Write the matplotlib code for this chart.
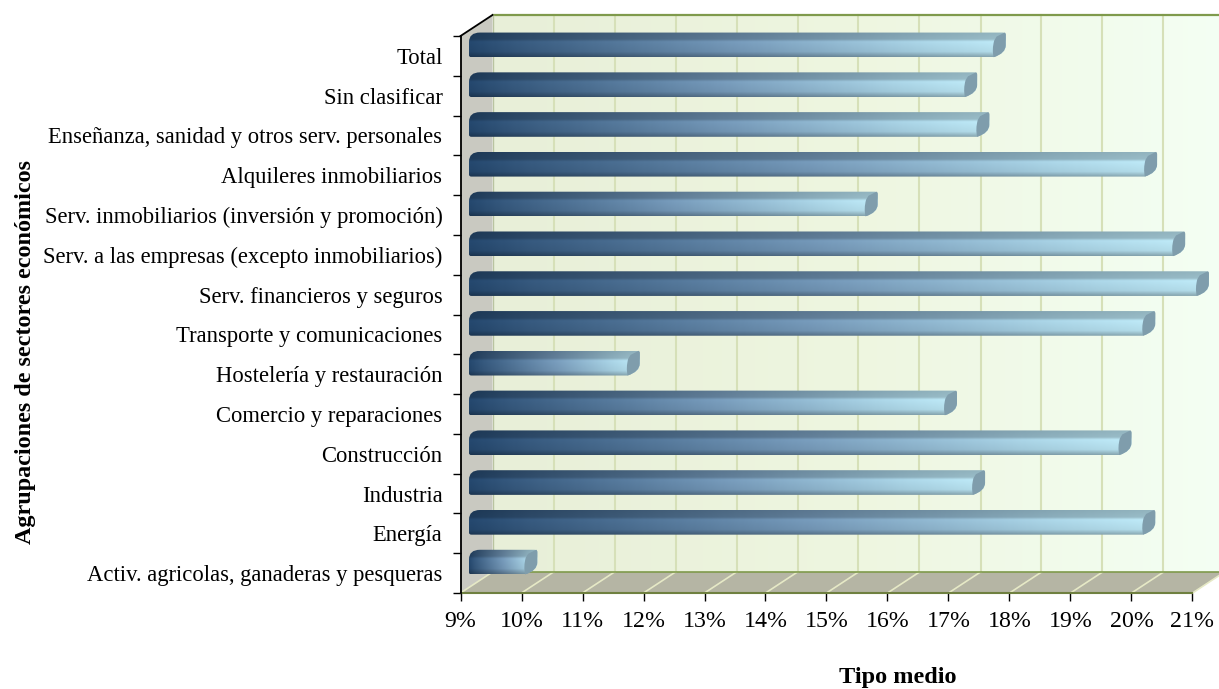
import numpy as np
import matplotlib
matplotlib.use("Agg")
import matplotlib.pyplot as plt
from matplotlib.colors import LinearSegmentedColormap
from matplotlib.patches import PathPatch, Polygon
from matplotlib.path import Path
from matplotlib.transforms import Affine2D

# Data, bottom to top
sectors = [
    "Activ. agricolas, ganaderas y pesqueras",
    "Energía",
    "Industria",
    "Construcción",
    "Comercio y reparaciones",
    "Hostelería y restauración",
    "Transporte y comunicaciones",
    "Serv. financieros y seguros",
    "Serv. a las empresas (excepto inmobiliarios)",
    "Serv. inmobiliarios (inversión y promoción)",
    "Alquileres inmobiliarios",
    "Enseñanza, sanidad y otros serv. personales",
    "Sin clasificar",
    "Total",
]
tipo_medio = [9.92, 20.05, 17.26, 19.66, 16.8, 11.6, 20.05, 20.93, 20.54, 15.5, 20.08, 17.33, 17.13, 17.6]
x_ticks = np.arange(9, 22)

plt.rcParams["font.family"] = ["Liberation Serif", "DejaVu Serif"]

W, H = 1219, 689
fig = plt.figure(figsize=(W / 100, H / 100), dpi=100)
ax = fig.add_axes([460.5 / W, (H - 593) / H, 732 / W, 557 / H])
n = len(sectors)
ax.set_xlim(9, 21)
ax.set_ylim(0, n)

# pixel offsets of the fake depth
back = ax.transData + Affine2D().translate(32, 21)
mid = ax.transData + Affine2D().translate(8.5, 11)
to_data = ax.transData.inverted()
ox, oy = to_data.transform([32, 21]) - to_data.transform([0, 0])

# back wall
wall = LinearSegmentedColormap.from_list("wall", ["#e8efd8", "#eef6e0", "#f4fff4"])
ax.imshow(np.linspace(0, 1, 256).reshape(1, -1), cmap=wall, extent=[9, 21, 0, n],
          aspect="auto", transform=back, clip_on=False, zorder=1)

# left wall and floor
ax.add_patch(Polygon([[9, 0], [9 + ox, oy], [9 + ox, n + oy], [9, n]], closed=True,
                     fc="#c9c9c1", ec="none", clip_on=False, zorder=1.2))
ax.add_patch(Polygon([[9, 0], [21, 0], [21 + ox, oy], [9 + ox, oy]], closed=True,
                     fc="#b5b5a4", ec="none", clip_on=False, zorder=1.2))

# grid on wall and floor
for v in x_ticks:
    if v > 9:
        ax.plot([v + ox, v + ox], [oy, n + oy], color="#d6e0b8", lw=1.5, clip_on=False, zorder=1.5)
    ax.plot([v, v + ox], [0, oy], color="#e6e9c6", lw=1.2, clip_on=False, zorder=1.5)
ax.plot([9 + ox, 21 + ox], [n + oy, n + oy], color="#7f9a4c", lw=1.6, clip_on=False, zorder=1.6)
ax.plot([9 + ox, 21 + ox], [oy, oy], color="#7f9a4c", lw=1.2, clip_on=False, zorder=1.6)
ax.plot([9, 21], [0, 0], color="#6f8040", lw=1.5, clip_on=False, zorder=1.6)
ax.plot([9 + ox, 9 + ox], [oy, n + oy], color="#b9c4a0", lw=1.0, clip_on=False, zorder=1.6)
ax.plot([9, 9 + ox], [n, n + oy], color="black", lw=1.3, clip_on=False, zorder=3)

# bars: gradient along the length, shaded bands across it
bar_cmap = LinearSegmentedColormap.from_list(
    "bar", [(0, "#24466b"), (0.08, "#34567a"), (0.5, "#7396b5"), (0.85, "#a6cfe0"), (1, "#b8e2ef")])
rows = 60
shade = np.ones(rows)
shade[:18] = np.linspace(0.80, 0.84, 18)
shade[18:24] = np.linspace(0.9, 1.05, 6)
shade[24:48] = np.linspace(1.04, 0.98, 24)
shade[48:] = np.linspace(0.95, 0.74, rows - 48)
half = 0.31
cap = 0.2
rx = 11 / 61
for i, v in enumerate(tipo_medio):
    y = i + 0.5
    t = np.linspace(0, 1, 300)
    rgb = bar_cmap(t)[:, :3][None, :, :] * shade[:, None, None]
    im = ax.imshow(np.clip(rgb, 0, 1), extent=[9, v + cap, y - half, y + half], aspect="auto",
                   transform=mid, zorder=4, interpolation="bilinear")
    top, bot = y + half, y - half
    outline = Path(
        [(9 + rx, top), (v + cap - 0.05, top), (v + cap, top), (v + cap, top - 0.06),
         (v + cap, bot + 0.3), (v + cap, bot + 0.1), (v, bot), (9 + 0.04, bot), (9, bot), (9, bot + 0.05),
         (9, top - 0.24), (9, top), (9 + rx, top), (9 + rx, top)],
        [Path.MOVETO, Path.LINETO, Path.CURVE3, Path.CURVE3,
         Path.LINETO, Path.CURVE3, Path.CURVE3, Path.LINETO, Path.CURVE3, Path.CURVE3,
         Path.LINETO, Path.CURVE3, Path.CURVE3, Path.CLOSEPOLY])
    im.set_clip_box(fig.bbox)
    im.set_clip_path(outline, mid)
    # end cap
    cap_path = Path(
        [(v + cap - 0.02, top), (v + cap, top), (v + cap, top - 0.06),
         (v + cap, bot + 0.3), (v + cap, bot + 0.1), (v, bot),
         (v - 0.03, bot + 0.2), (v + 0.01, top - 0.2),
         (v + 0.05, top - 0.1), (v + cap - 0.02, top)],
        [Path.MOVETO, Path.CURVE3, Path.CURVE3,
         Path.LINETO, Path.CURVE3, Path.CURVE3,
         Path.CURVE3, Path.CURVE3,
         Path.LINETO, Path.CLOSEPOLY])
    ax.add_patch(PathPatch(cap_path, fc="#7f9dac", ec="none", transform=mid, zorder=5, clip_on=False))

ax.set_xlim(9, 21)
ax.set_ylim(0, n)

# axes
for side in ["top", "right", "bottom"]:
    ax.spines[side].set_visible(False)
ax.spines["left"].set_color("black")
ax.spines["left"].set_linewidth(1.3)
ax.spines["left"].set_zorder(3)
ax.patch.set_visible(False)

ax.set_xticks(x_ticks)
ax.set_xticklabels([f"{v}%" for v in x_ticks], fontsize=17.2)
ax.tick_params(axis="x", length=6, width=1, color="black", pad=7)
ax.set_yticks(np.arange(n + 1))
ax.set_yticklabels([])
ax.set_yticks(np.arange(n) + 0.5, minor=True)
ax.set_yticklabels(sectors, minor=True, fontsize=16.3)
ax.tick_params(axis="y", which="major", length=6, width=1, color="black")
ax.tick_params(axis="y", which="minor", length=0, pad=13)

fig.text(898 / W, 1 - 678 / H, "Tipo medio", fontsize=17.5, fontweight="bold", ha="center", va="center")
fig.text(26 / W, 1 - 352 / H, "Agrupaciones de sectores económicos", fontsize=17.4, fontweight="bold",
         rotation=90, ha="center", va="center")

fig.savefig("out.png", dpi=100)
